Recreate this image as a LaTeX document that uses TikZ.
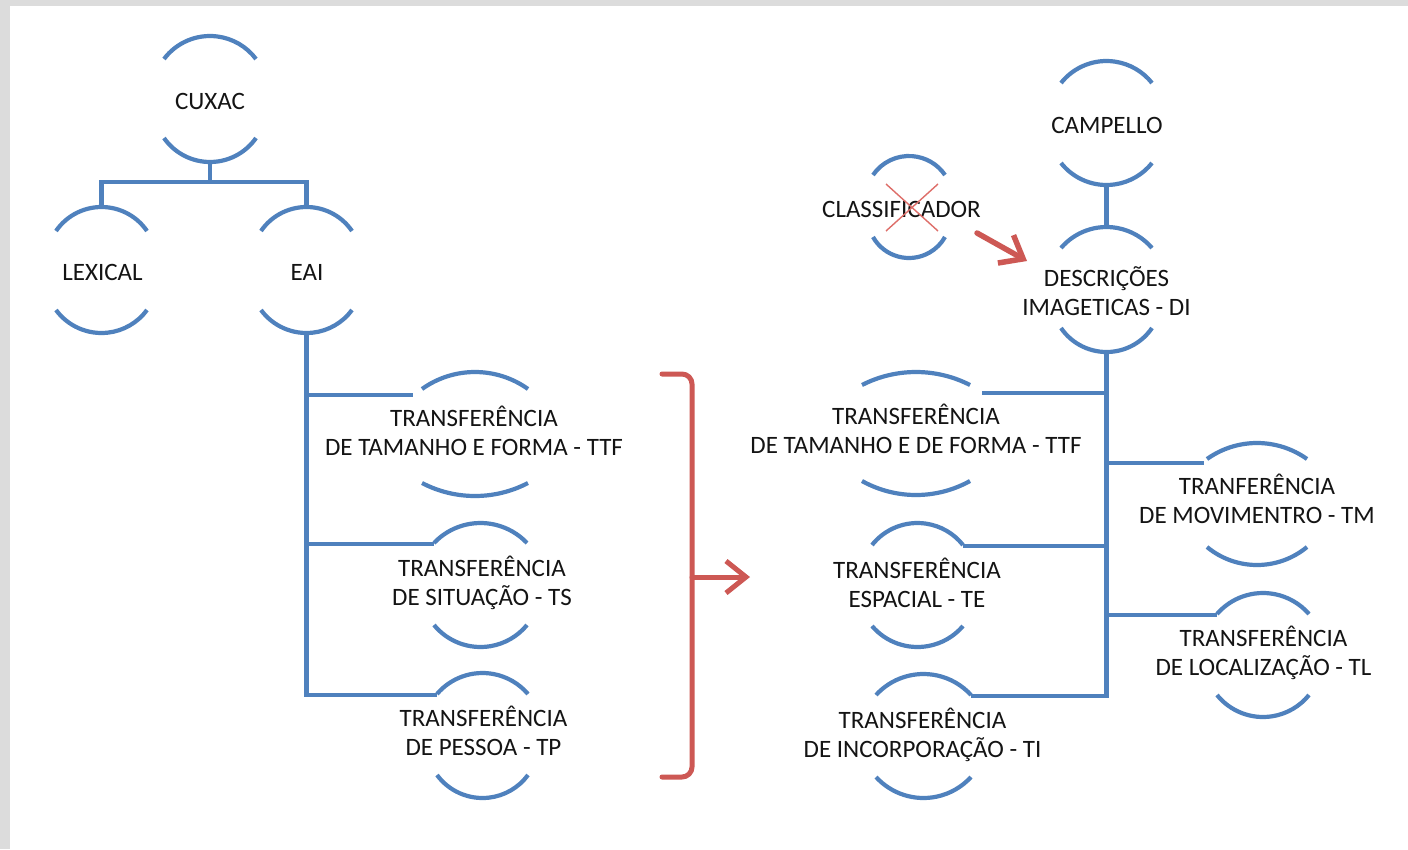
\documentclass[tikz,border=0pt]{standalone}
\usepackage{fontspec}
\setmainfont{Carlito}
\usetikzlibrary{arrows.meta}
\definecolor{bl}{RGB}{79,129,189}
\definecolor{rd}{RGB}{205,88,84}
\definecolor{rdx}{RGB}{222,110,105}
\definecolor{txt}{RGB}{20,20,20}
\definecolor{shadowgray}{RGB}{220,220,220}
\newcommand\ls{\rule[-6pt]{0pt}{26pt}}
% name, xl, xr, top apex y, top end y, bottom end y, bottom apex y
\newcommand\arcpair[7]{%
  \pgfmathsetmacro\aw{(#3-#2)/2}%
  \pgfmathsetmacro\acx{(#3+#2)/2}%
  \pgfmathsetmacro\ast{#5-#4}%
  \pgfmathsetmacro\ar{(\aw*\aw+\ast*\ast)/(2*\ast)}%
  \pgfmathsetmacro\aphi{asin(\aw/\ar)}%
  \draw[arcline] (#2,#5) arc[start angle={-90-\aphi}, end angle={-90+\aphi}, radius=\ar];
  \pgfmathsetmacro\asb{#7-#6}%
  \pgfmathsetmacro\arb{(\aw*\aw+\asb*\asb)/(2*\asb)}%
  \pgfmathsetmacro\aphib{asin(\aw/\arb)}%
  \draw[arcline] (#2,#6) arc[start angle={90+\aphib}, end angle={90-\aphib}, radius=\arb];
  \coordinate (#1-t) at (\acx,#4);
  \coordinate (#1-b) at (\acx,#7);
}
\begin{document}
\begin{tikzpicture}[x=1pt,y=-1pt,
  arcline/.style={draw=bl,line width=4.2pt},
  conn/.style={draw=bl,line width=4.2pt},
  lbl/.style={font=\fontsize{25}{29}\selectfont, text=txt, align=center, inner sep=0pt},
  brk/.style={draw=rd, line width=5pt, line cap=round, line join=round},
  redtip/.style={-{Straight Barb[length=20pt,width=32pt]}}]
\useasboundingbox (0,0) rectangle (1408,849);
\fill[shadowgray] (0,0) rectangle (1408,849);
\fill[white] (10,6) rectangle (1408,849);

% arcs
\arcpair{cuxac}{164}{256}{36}{59}{138}{162}
\arcpair{lex}{56}{147}{207}{231}{310}{333}
\arcpair{eai}{261}{352}{207}{231}{310}{333}
\arcpair{ttfl}{422}{528}{372}{389}{483}{496}
\arcpair{ts}{434}{527}{523}{543}{625}{647}
\arcpair{tp}{437}{528}{673}{694}{775}{798}
\arcpair{cls}{873}{945}{156}{175}{237}{258}
\arcpair{camp}{1061}{1152}{61}{83}{163}{185}
\arcpair{di}{1061}{1152}{227}{248}{328}{352}
\arcpair{ttfr}{862}{970}{372}{385}{481}{495}
\arcpair{tm}{1207}{1307}{443}{459}{547}{565}
\arcpair{tl}{1217}{1309}{593}{614}{695}{717}
\arcpair{te}{872}{963}{523}{545}{626}{647}
\arcpair{ti}{876}{971}{674}{695}{777}{798}

% labels
\node[lbl] (cuxac) at (210,102) {\ls CUXAC};
\node[lbl] (lex) at (102.5,273) {\ls LEXICAL};
\node[lbl] (eai) at (307,273) {\ls EAI};
\node[lbl] (ttfl) at (474,434) {\ls TRANSFERÊNCIA\\\ls DE TAMANHO E FORMA - TTF};
\node[lbl] (ts) at (482,583.5) {\ls TRANSFERÊNCIA\\\ls DE SITUAÇÃO - TS};
\node[lbl] (tp) at (483.5,734) {\ls TRANSFERÊNCIA\\\ls DE PESSOA - TP};
\node[lbl] (cls) at (901.5,210.5) {\ls CLASSIFICADOR};
\node[lbl] (camp) at (1107,126) {\ls CAMPELLO};
\node[lbl] (di) at (1106.5,294) {\ls DESCRIÇÕES\\\ls IMAGETICAS - DI};
\node[lbl] (ttfr) at (916,431.5) {\ls TRANSFERÊNCIA\\\ls DE TAMANHO E DE FORMA - TTF};
\node[lbl] (tm) at (1257,501.5) {\ls TRANFERÊNCIA\\\ls DE MOVIMENTRO - TM};
\node[lbl] (tl) at (1263.5,653.5) {\ls TRANSFERÊNCIA\\\ls DE LOCALIZAÇÃO - TL};
\node[lbl] (te) at (917,585.5) {\ls TRANSFERÊNCIA\\\ls ESPACIAL - TE};
\node[lbl] (ti) at (922.5,735.5) {\ls TRANSFERÊNCIA\\\ls DE INCORPORAÇÃO - TI};

% red cross over classificador
\draw[rdx, line width=1.4pt] (886,184) -- (938,231);
\draw[rdx, line width=1.4pt] (938,184) -- (886,231);

% blue connectors, left tree
\draw[conn] (cuxac-b) -- (210,182) coordinate (j1) -| (lex-t);
\draw[conn] (j1) -| (eai-t);
\coordinate (ttfl-in) at (413,395);
\coordinate (ts-in) at (434,544);
\coordinate (tp-in) at (437,695);
\draw[conn] (eai-b) |- (tp-in);
\draw[conn] (eai-b |- ttfl-in) -- (ttfl-in);
\draw[conn] (eai-b |- ts-in) -- (ts-in);

% blue connectors, right tree
\draw[conn] (camp-b) -- (di-t);
\coordinate (ttfr-in) at (982,393);
\coordinate (tm-in) at (1204,463);
\coordinate (te-in) at (963,546);
\coordinate (tl-in) at (1217,615);
\coordinate (ti-in) at (971,696);
\draw[conn] (di-b) |- (ti-in);
\draw[conn] (di-b |- ttfr-in) -- (ttfr-in);
\draw[conn] (di-b |- tm-in) -- (tm-in);
\draw[conn] (di-b |- te-in) -- (te-in);
\draw[conn] (di-b |- tl-in) -- (tl-in);

% red bracket and arrows
\coordinate (brT) at (662,374);
\coordinate (brM) at (692,577);
\coordinate (brB) at (662,777);
\coordinate (brA) at (750,577);
\draw[brk, rounded corners=10pt] (brT) -| (brM) |- (brB);
\draw[brk, redtip] (brM) -- (brA);
\coordinate (cls-out) at (977,233);
\coordinate (di-in) at (1027,261);
\draw[brk, line width=5.5pt, redtip] (cls-out) -- (di-in);
\end{tikzpicture}
\end{document}
